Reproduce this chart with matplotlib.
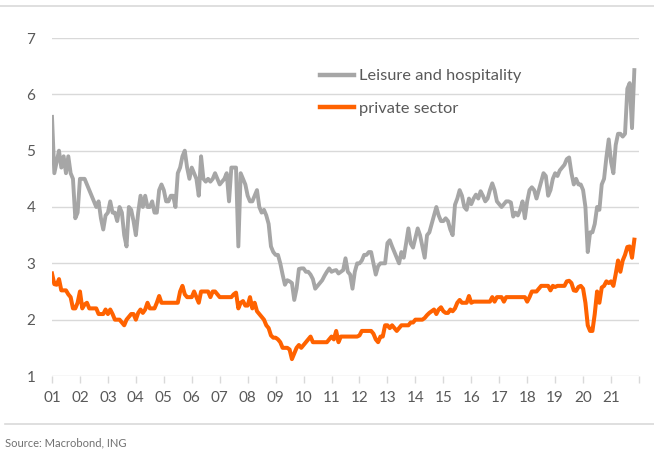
import numpy as np
import matplotlib
matplotlib.use("Agg")
import matplotlib.pyplot as plt

plt.rcParams['font.family'] = ['Lato', 'DejaVu Sans']

# Monthly data, Jan 2001 .. Nov 2021 (quits rate, %)
leisure = [
    5.6, 4.6, 4.8, 5.0, 4.7, 4.9, 4.6, 4.9, 4.6, 4.5, 3.8, 3.9,      # 2001
    4.5, 4.5, 4.5, 4.4, 4.3, 4.2, 4.1, 4.0, 4.1, 3.8, 3.6, 3.85,     # 2002
    3.9, 4.1, 3.9, 3.9, 3.75, 4.0, 3.9, 3.5, 3.3, 4.0, 3.95, 3.75,   # 2003
    3.5, 3.9, 4.2, 4.0, 4.2, 4.0, 4.0, 4.1, 3.9, 3.9, 4.3, 4.4,      # 2004
    4.3, 4.1, 4.1, 4.2, 4.2, 4.0, 4.6, 4.7, 4.9, 5.0, 4.7, 4.5,      # 2005
    4.7, 4.6, 4.5, 4.2, 4.9, 4.5, 4.45, 4.5, 4.45, 4.5, 4.6, 4.5,    # 2006
    4.4, 4.45, 4.5, 4.6, 4.1, 4.7, 4.7, 4.7, 3.3, 4.6, 4.5, 4.4,     # 2007
    4.2, 4.1, 4.1, 4.2, 4.3, 4.0, 3.9, 3.95, 3.85, 3.7, 3.3, 3.2,    # 2008
    3.15, 3.15, 3.0, 2.8, 2.62, 2.7, 2.68, 2.65, 2.35, 2.55, 2.9, 2.91,  # 2009
    2.91, 2.85, 2.85, 2.8, 2.72, 2.55, 2.6, 2.65, 2.7, 2.78, 2.85, 2.91, # 2010
    2.85, 2.87, 2.88, 2.82, 2.85, 2.88, 3.09, 2.85, 2.8, 2.55, 2.85, 3.0, # 2011
    3.0, 3.05, 3.15, 3.15, 3.2, 3.2, 3.0, 2.8, 2.95, 3.0, 3.0, 3.0,   # 2012
    3.36, 3.41, 3.3, 3.2, 3.1, 3.0, 3.2, 3.1, 3.35, 3.62, 3.35, 3.28, # 2013
    3.45, 3.62, 3.5, 3.3, 3.1, 3.5, 3.55, 3.7, 3.85, 4.0, 3.85, 3.75, # 2014
    3.75, 3.8, 3.75, 3.6, 3.5, 4.04, 4.15, 4.3, 4.2, 4.0, 3.95, 4.15, # 2015
    4.05, 4.15, 4.22, 4.15, 4.28, 4.2, 4.1, 4.15, 4.3, 4.42, 4.3, 4.1, # 2016
    4.05, 4.0, 4.05, 4.1, 4.1, 4.08, 3.83, 3.9, 3.85, 3.95, 4.1, 3.8, # 2017
    4.1, 4.3, 4.35, 4.3, 4.15, 4.3, 4.45, 4.6, 4.55, 4.2, 4.3, 4.5,   # 2018
    4.6, 4.55, 4.65, 4.7, 4.75, 4.85, 4.88, 4.6, 4.4, 4.5, 4.4, 4.4,  # 2019
    4.3, 4.0, 3.2, 3.55, 3.55, 3.7, 4.0, 3.95, 4.4, 4.5, 4.88, 5.2,   # 2020
    4.8, 4.6, 5.1, 5.3, 5.3, 5.25, 5.3, 6.1, 6.2, 5.4, 6.43,          # 2021
]
private = [
    2.82, 2.63, 2.62, 2.72, 2.52, 2.52, 2.52, 2.45, 2.4, 2.2, 2.2, 2.3,   # 2001
    2.5, 2.2, 2.27, 2.3, 2.2, 2.2, 2.2, 2.2, 2.1, 2.1, 2.1, 2.18,         # 2002
    2.1, 2.18, 2.1, 2.0, 2.0, 2.0, 1.95, 1.9, 2.0, 2.05, 2.1, 2.1,        # 2003
    2.0, 2.12, 2.18, 2.12, 2.18, 2.3, 2.2, 2.2, 2.2, 2.3, 2.42, 2.3,      # 2004
    2.3, 2.3, 2.3, 2.3, 2.3, 2.3, 2.3, 2.5, 2.6, 2.45, 2.4, 2.4,          # 2005
    2.4, 2.5, 2.4, 2.3, 2.5, 2.5, 2.5, 2.5, 2.4, 2.5, 2.5, 2.45,          # 2006
    2.4, 2.4, 2.4, 2.4, 2.4, 2.4, 2.45, 2.48, 2.2, 2.3, 2.33, 2.25,       # 2007
    2.25, 2.4, 2.2, 2.3, 2.15, 2.1, 2.05, 2.0, 1.9, 1.85, 1.72, 1.68,     # 2008
    1.68, 1.65, 1.6, 1.5, 1.5, 1.5, 1.47, 1.3, 1.4, 1.5, 1.55, 1.5,       # 2009
    1.55, 1.6, 1.65, 1.7, 1.6, 1.6, 1.6, 1.6, 1.6, 1.6, 1.6, 1.65,        # 2010
    1.7, 1.65, 1.8, 1.6, 1.7, 1.7, 1.7, 1.7, 1.7, 1.7, 1.7, 1.7,          # 2011
    1.72, 1.8, 1.8, 1.8, 1.8, 1.8, 1.75, 1.65, 1.6, 1.7, 1.7, 1.9,        # 2012
    1.9, 1.85, 1.9, 1.85, 1.8, 1.85, 1.9, 1.9, 1.9, 1.9, 1.95, 1.95,      # 2013
    2.0, 2.0, 2.0, 2.0, 2.03, 2.08, 2.12, 2.15, 2.18, 2.1, 2.18, 2.22,    # 2014
    2.15, 2.12, 2.12, 2.18, 2.15, 2.2, 2.3, 2.35, 2.3, 2.3, 2.3, 2.42,    # 2015
    2.3, 2.32, 2.32, 2.32, 2.32, 2.32, 2.32, 2.32, 2.32, 2.4, 2.32, 2.4,  # 2016
    2.4, 2.4, 2.32, 2.4, 2.4, 2.4, 2.4, 2.4, 2.4, 2.4, 2.4, 2.4,          # 2017
    2.32, 2.4, 2.5, 2.5, 2.5, 2.55, 2.6, 2.6, 2.6, 2.6, 2.52, 2.6,        # 2018
    2.58, 2.6, 2.6, 2.6, 2.6, 2.68, 2.69, 2.65, 2.52, 2.51, 2.58, 2.6,    # 2019
    2.55, 2.3, 1.9, 1.8, 1.8, 2.1, 2.5, 2.3, 2.57, 2.6, 2.68, 2.65,       # 2020
    2.68, 2.6, 2.81, 3.05, 2.85, 3.05, 3.15, 3.29, 3.3, 3.1, 3.42,        # 2021
]
start_year = 2001
tick_years = list(range(2001, 2023))
tick_labels = ["01", "02", "03", "04", "05", "06", "07", "08", "09", "10",
               "11", "12", "13", "14", "15", "16", "17", "18", "19", "20", "21", ""]
y_ticks = [1, 2, 3, 4, 5, 6, 7]
series_names = ["Leisure and hospitality", "private sector"]
source_text = "Source: Macrobond, ING"

W, H = 654, 454
fig = plt.figure(figsize=(W / 100, H / 100), dpi=100)
fig.patch.set_facecolor("white")

ax = fig.add_axes([52 / W, 1 - 376 / H, (639 - 52) / W, (376 - 38) / H])
x = start_year + np.arange(len(leisure)) / 12.0

GRAY = "#A6A6A6"
ORANGE = "#FF6200"
TEXT = "#595959"
GRID = "#D9D9D9"

ax.plot(x, leisure, color=GRAY, lw=2.8, solid_joinstyle="round", label=series_names[0], zorder=3)
ax.plot(x, private, color=ORANGE, lw=2.9, solid_joinstyle="round", label=series_names[1], zorder=3)

ax.set_xlim(2001, 2022)
ax.set_ylim(1, 7)
ax.set_yticks(y_ticks)
ax.set_yticklabels([str(v) for v in y_ticks])
ax.set_xticks(tick_years)
ax.set_xticklabels(tick_labels)

for s in ax.spines.values():
    s.set_visible(False)
ax.yaxis.grid(True, color=GRID, lw=1.0)
ax.set_axisbelow(True)
ax.tick_params(axis="y", length=0, pad=12, labelsize=11, labelcolor=TEXT)
ax.tick_params(axis="x", length=5, width=1, color=GRID, pad=6, labelsize=11, labelcolor=TEXT)

leg = ax.legend(loc="upper left", bbox_to_anchor=(320 / W, 1 - 69 / H),
                bbox_transform=fig.transFigure, frameon=False, borderpad=0,
                borderaxespad=0, handlelength=2.1, handletextpad=0.3,
                labelspacing=1.1, fontsize=11.8)
for t in leg.get_texts():
    t.set_color(TEXT)
for ln in leg.get_lines():
    ln.set_linewidth(3.2)

# frame lines and source
fig.add_artist(plt.Line2D([0, 1], [1 - 6 / H, 1 - 6 / H], transform=fig.transFigure, color=GRID, lw=1.2))
fig.add_artist(plt.Line2D([5 / W, 1], [1 - 424 / H, 1 - 424 / H], transform=fig.transFigure, color=GRID, lw=1.2))
fig.text(5 / W, 1 - 443 / H, source_text, fontsize=8, color="#707070", va="center", ha="left")

fig.savefig("out.png", dpi=100, facecolor="white")
